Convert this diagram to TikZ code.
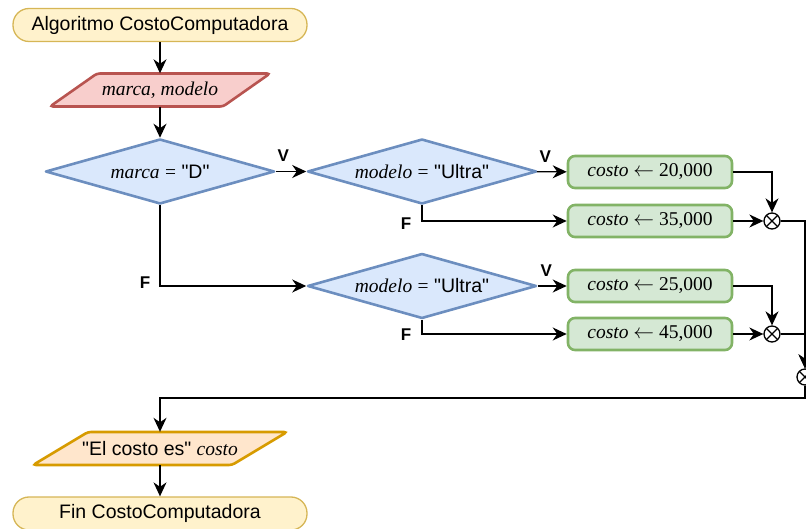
\documentclass[tikz,border=0pt]{standalone}
\usepackage{fontspec}
\setmainfont{Liberation Sans}[Ligatures=TeXOff]
\newfontfamily\tms{Liberation Serif}
\usepackage{tikz}
\usetikzlibrary{shapes.geometric,arrows.meta,calc,positioning}
\definecolor{termfill}{HTML}{FFF2CC}
\definecolor{termdraw}{HTML}{D6B656}
\definecolor{readfill}{HTML}{F8CECC}
\definecolor{readdraw}{HTML}{B85450}
\definecolor{decfill}{HTML}{DAE8FC}
\definecolor{decdraw}{HTML}{6C8EBF}
\definecolor{asgfill}{HTML}{D5E8D4}
\definecolor{asgdraw}{HTML}{82B366}
\definecolor{writefill}{HTML}{FFE6CC}
\definecolor{writedraw}{HTML}{D79B00}
\newcommand{\dq}{\symbol{34}}

\begin{document}
\begin{tikzpicture}[x=1pt,y=-1pt,
    font=\fontsize{19.5}{23}\selectfont,
    terminal/.style={draw=termdraw,fill=termfill,line width=1.3pt,rounded corners=16pt,
      minimum width=294pt,minimum height=33pt,inner sep=0pt},
    iotext/.style={minimum width=150pt,minimum height=33pt,inner sep=0pt},
    decision/.style={diamond,draw=decdraw,fill=decfill,line width=2.6pt,line join=round,
      aspect=3.5,minimum width=229pt,minimum height=65pt,inner sep=0pt},
    assign/.style={draw=asgdraw,fill=asgfill,line width=2.6pt,rounded corners=7pt,
      minimum width=164pt,minimum height=32pt,inner sep=0pt},
    merge/.style={circle,draw,fill=white,line width=1.3pt,minimum size=16pt,inner sep=0pt,
      path picture={\draw[line width=1.3pt] (path picture bounding box.north west) -- (path picture bounding box.south east)
        (path picture bounding box.north east) -- (path picture bounding box.south west);}},
    flow/.style={line width=1.4pt,-{Stealth[length=14pt,width=13pt,inset=4.5pt]}},
    lbl/.style={font=\fontsize{17}{20}\selectfont\bfseries,inner sep=0pt}]
  \useasboundingbox (0,0) rectangle (806,529);

  % start and read
  \node[terminal] (ini) at (160,25) {Algoritmo CostoComputadora};
  \filldraw[draw=readdraw,fill=readfill,line width=2.6pt,rounded corners=3pt]
    (97,73.5) -- (270,73.5) -- (223,106.5) -- (50,106.5) -- cycle;
  \node[iotext] (lee) at (160,90) {\tms\itshape marca, modelo};

  % decisions
  \node[decision] (d1) at (160,171.5) {{\tms\itshape marca} {\tms =} \dq D\dq};
  \node[decision] (d2) at (422,171.5) {{\tms\itshape modelo} {\tms =} \dq Ultra\dq};
  \node[decision] (d3) at (422,286) {{\tms\itshape modelo} {\tms =} \dq Ultra\dq};

  % assignments
  \node[assign] (b1) at (650,172) {\tms\textit{costo} $\leftarrow$ 20,000};
  \node[assign] (b2) at (650,221) {\tms\textit{costo} $\leftarrow$ 35,000};
  \node[assign] (b3) at (650,286) {\tms\textit{costo} $\leftarrow$ 25,000};
  \node[assign] (b4) at (650,334) {\tms\textit{costo} $\leftarrow$ 45,000};

  % joins
  \node[merge] (m1) at (772,221) {};
  \node[merge] (m2) at (772,334) {};
  \node[merge] (m3) at (805,377) {};
  \coordinate (codo) at (160,398);

  % write and end
  \filldraw[draw=writedraw,fill=writefill,line width=2.6pt,rounded corners=3pt]
    (88,432) -- (287,432) -- (232,465) -- (33,465) -- cycle;
  \node[iotext] (esc) at (160,448.5) {\dq El costo es\dq{} {\tms\itshape costo}};
  \node[terminal] (fin) at (160,513.5) {Fin CostoComputadora};

  % arrows
  \draw[flow] (ini) -- (lee);
  \draw[flow] (lee) -- (d1);
  \draw[flow] (d1) -- node[lbl,pos=0,anchor=south west,xshift=1pt,yshift=9pt] {V} (d2);
  \draw[flow] (d1) |- node[lbl,pos=0.5,anchor=east,xshift=-9pt,yshift=3pt] {F} (d3);
  \draw[flow] (d2) -- node[lbl,pos=0,anchor=south west,xshift=2pt,yshift=9pt] {V} (b1);
  \draw[flow] (d2) |- node[lbl,pos=0.5,anchor=east,xshift=-10pt,yshift=-3pt] {F} (b2);
  \draw[flow] (d3) -- node[lbl,pos=0,anchor=south west,xshift=2pt,yshift=9pt] {V} (b3);
  \draw[flow] (d3) |- node[lbl,pos=0.5,anchor=east,xshift=-10pt,yshift=-1pt] {F} (b4);
  \draw[flow] (b1) -| (m1);
  \draw[flow] (b2) -- (m1);
  \draw[flow] (b3) -| (m2);
  \draw[flow] (b4) -- (m2);
  \draw[flow] (m1) -| (m3);
  \draw[flow] (m2) -| (m3);
  \draw[flow] (m3) |- (codo) -- (esc);
  \draw[flow] (esc) -- (fin);
\end{tikzpicture}
\end{document}
